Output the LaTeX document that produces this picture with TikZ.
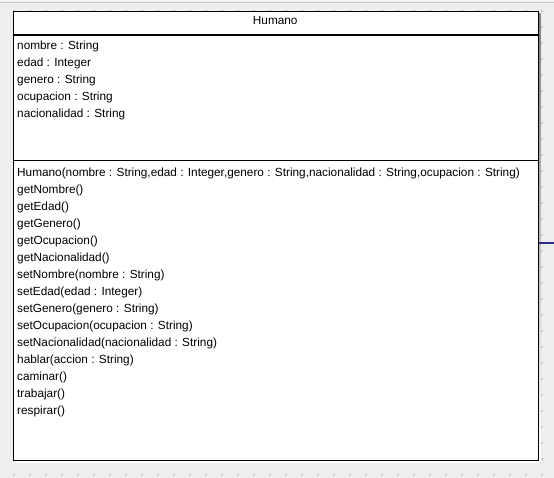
\documentclass[tikz,border=0pt]{standalone}
\usepackage{fontspec}
\setmainfont{Liberation Sans}
\definecolor{canvas}{HTML}{EEEEEE}
\definecolor{griddot}{HTML}{CCCCCC}
\definecolor{shade}{HTML}{D0D0D0}
\definecolor{linkblue}{HTML}{2E2E8A}
\begin{document}
\begin{tikzpicture}[x=1pt,y=-1pt,
  classbox/.style={draw=black, line width=1.1pt, fill=white, rectangle, inner sep=0pt},
  member/.style={anchor=base west, inner sep=0pt, font=\fontsize{11.8}{14}\selectfont},
  title/.style={anchor=base, inner sep=0pt, font=\fontsize{11.8}{14}\selectfont},
  divider/.style={draw=black, line width=1.1pt},
  link/.style={draw=linkblue, line width=1.1pt}]
  % canvas and editor strip
  \fill[canvas] (0,0) rectangle (554,478);
  \useasboundingbox (0,0) rectangle (554,478);
  \fill[white!60!canvas] (0,0) rectangle (554,1.5);
  \draw[draw=black!22, line width=1.2pt] (0,2.3) -- (554,2.3);
  % grid dots
  \foreach \gx in {0,...,33} {
    \foreach \gy in {0,...,29} {
      \fill[griddot] (13+16*\gx,10+16*\gy) rectangle ++(2,2);
    }
  }
  % drop shadow
  \fill[shade] (16,14) rectangle (540.5,462.5);
  % class box
  \node[classbox, minimum width=524.5pt, minimum height=448.8pt, anchor=north west] (cls) at (13,10.7) {};
  \coordinate (headL) at (13,35);
  \coordinate (headR) at (537.5,35);
  \coordinate (bodyL) at (13,160.5);
  \coordinate (bodyR) at (537.5,160.5);
  \draw[divider] (headL) -- (headR);
  \draw[divider] (bodyL) -- (bodyR);
  \node[title] (name) at (275.25,24.5) {Humano};
  % attributes
  \foreach \t [count=\i] in {{nombre : String},{edad : Integer},{genero : String},{ocupacion : String},{nacionalidad : String}} {
    \node[member] (attr\i) at (17,33+17*\i) {\t};
  }
  % operations
  \foreach \t [count=\i] in {{Humano(nombre : String,edad : Integer,genero : String,nacionalidad : String,ocupacion : String)},
      {getNombre()},{getEdad()},{getGenero()},{getOcupacion()},{getNacionalidad()},
      {setNombre(nombre : String)},{setEdad(edad : Integer)},{setGenero(genero : String)},
      {setOcupacion(ocupacion : String)},{setNacionalidad(nacionalidad : String)},
      {hablar(accion : String)},{caminar()},{trabajar()},{respirar()}} {
    \node[member] (op\i) at (17,160+16.95*\i) {\t};
  }
  % association leaving the class
  \coordinate (linkend) at (554,243);
  \draw[link] (cls.east |- linkend) -- (linkend);
\end{tikzpicture}
\end{document}
